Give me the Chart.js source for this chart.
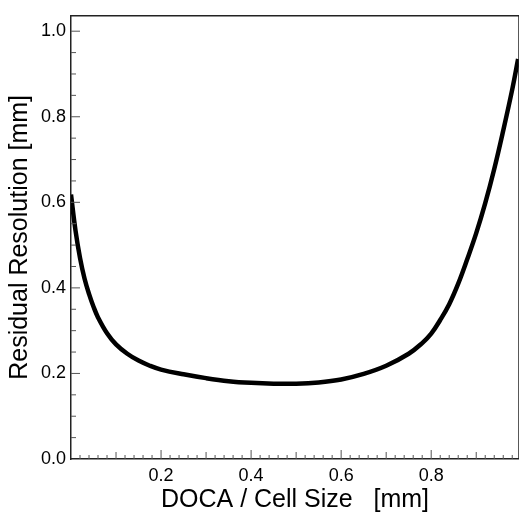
<!DOCTYPE html>
<html>
<head>
<meta charset="utf-8">
<script src="https://cdn.jsdelivr.net/npm/chart.js@4.4.0/dist/chart.umd.min.js"></script>
<style>
	body { margin: 0; background: #fff; }
	#wrap { width: 519px; height: 515px; }
</style>
</head>
<body>
<div id="wrap"><canvas id="myChart" width="519" height="515"></canvas></div>
<script>
// residual resolution vs drift distance (fraction of cell)
const docaX = [0.0, 0.01, 0.02, 0.03, 0.04, 0.05, 0.06, 0.08, 0.10, 0.125, 0.15, 0.175, 0.20, 0.25, 0.30, 0.35, 0.40, 0.45, 0.50, 0.55, 0.60, 0.65, 0.70, 0.75, 0.78, 0.80, 0.82, 0.84, 0.86, 0.88, 0.90, 0.92, 0.94, 0.96, 0.98, 0.993];
const resY = [0.618, 0.534, 0.470, 0.422, 0.386, 0.356, 0.331, 0.294, 0.268, 0.246, 0.230, 0.218, 0.209, 0.198, 0.189, 0.182, 0.178, 0.176, 0.176, 0.179, 0.186, 0.199, 0.218, 0.246, 0.271, 0.293, 0.325, 0.362, 0.410, 0.467, 0.528, 0.598, 0.678, 0.768, 0.864, 0.935];
const xTicks = [0.2, 0.4, 0.6, 0.8];
const yTicks = [0.0, 0.2, 0.4, 0.6, 0.8, 1.0];

var points = [];
for (let i = 0; i < docaX.length; i++) {
	points.push({x: docaX[i], y: resY[i]});
}

const axisColor = '#222';

// frame on top + small ticks pointing into the plot
const frameTicks = {
	id: 'frameTicks',
	afterDraw(chart) {
		const ctx = chart.ctx;
		const area = chart.chartArea;
		const xs = chart.scales.x;
		const ys = chart.scales.y;
		ctx.save();
		ctx.strokeStyle = axisColor;
		ctx.lineWidth = 1.5;
		ctx.beginPath();
		ctx.moveTo(area.left, area.top);
		ctx.lineTo(area.right, area.top);
		ctx.lineTo(area.right, area.bottom);
		ctx.stroke();

		ctx.lineWidth = 1;
		ctx.strokeStyle = '#555';
		ctx.beginPath();
		for (let i = 1; i * 0.02 < xs.max; i++) {
			var px = xs.getPixelForValue(i * 0.02);
			var len = (i % 10 == 0) ? 9 : (i % 5 == 0 ? 7 : 4);
			ctx.moveTo(px, area.bottom);
			ctx.lineTo(px, area.bottom - len);
		}
		for (let j = 1; j * 0.05 < ys.max; j++) {
			var py = ys.getPixelForValue(j * 0.05);
			var l2 = (j % 4 == 0) ? 9 : 5;
			ctx.moveTo(area.left, py);
			ctx.lineTo(area.left + l2, py);
		}
		ctx.stroke();
		ctx.restore();
	}
};

const font = 'Liberation Sans, Arial, Helvetica, sans-serif';
const ctx = document.getElementById('myChart').getContext('2d');
const myChart = new Chart(ctx, {
	type: 'line',
	data: {
		datasets: [{
			label: 'resolution',
			data: points,
			borderColor: '#000',
			borderWidth: 4.5,
			pointRadius: 0,
			tension: 0.4,
			fill: false
		}]
	},
	options: {
		responsive: false,
		animation: false,
		layout: { padding: { top: 11, right: 0, left: 0, bottom: 0 } },
		plugins: { legend: { display: false }, tooltip: { enabled: false } },
		scales: {
			x: {
				type: 'linear',
				min: 0,
				max: 0.995,
				afterFit(scale) { scale.height = 56; },
				afterBuildTicks(scale) { scale.ticks = xTicks.map(v => ({value: v})); },
				grid: { drawOnChartArea: false, drawTicks: false },
				border: { display: true, color: axisColor, width: 1.5 },
				ticks: {
					padding: 6,
					color: '#000',
					maxRotation: 0,
					font: { family: font, size: 18 },
					callback: v => v.toFixed(1)
				},
				title: {
					display: true,
					text: 'DOCA / Cell Size   [mm]',
					color: '#000',
					font: { family: font, size: 25 },
					padding: { top: 0, bottom: 0 }
				}
			},
			y: {
				type: 'linear',
				min: 0,
				max: 1.036,
				afterFit(scale) { scale.width = 71; },
				afterBuildTicks(scale) { scale.ticks = yTicks.map(v => ({value: v})); },
				grid: { drawOnChartArea: false, drawTicks: false },
				border: { display: true, color: axisColor, width: 1.5 },
				ticks: {
					padding: 5,
					color: '#000',
					font: { family: font, size: 18 },
					callback: v => v.toFixed(1)
				},
				title: {
					display: true,
					text: 'Residual Resolution [mm]',
					color: '#000',
					font: { family: font, size: 25 },
					padding: { top: 5, bottom: 0 }
				}
			}
		}
	},
	plugins: [frameTicks]
});
</script>
</body>
</html>
